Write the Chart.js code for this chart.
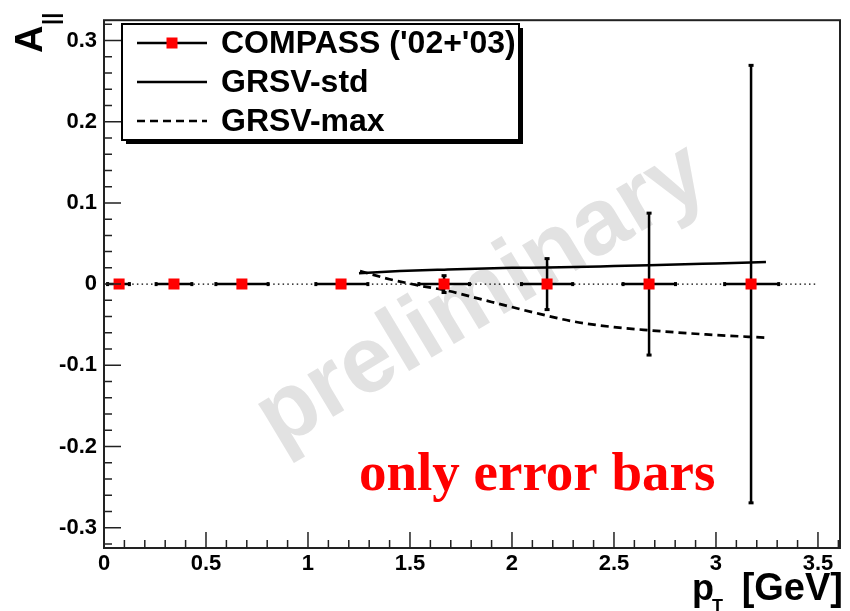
<!DOCTYPE html>
<html>
<head>
<meta charset="utf-8">
<script src="https://cdn.jsdelivr.net/npm/chart.js@4.4.0/dist/chart.umd.min.js"></script>
<style>
body { margin: 0; background: #fff; }
</style>
</head>
<body>
<canvas id="myChart" width="850" height="611"></canvas>
<script>
// COMPASS points (pT bin centres, asymmetry set to 0, only the errors shown)
const ptCenter = [0.074, 0.343, 0.676, 1.162, 1.667, 2.172, 2.672, 3.172];
const ptLow = [0.015, 0.253, 0.546, 1.036, 1.541, 2.044, 2.542, 3.040];
const ptHigh = [0.127, 0.433, 0.807, 1.296, 1.794, 2.300, 2.804, 3.310];
const asym = [0, 0, 0, 0, 0, 0, 0, 0];
const asymErr = [0.002, 0.002, 0.002, 0.003, 0.011, 0.032, 0.088, 0.270];

// GRSV curves
const stdX = [1.25, 1.45, 1.667, 2.0, 2.172, 2.5, 2.672, 3.0, 3.245];
const stdY = [0.0134, 0.016, 0.0178, 0.020, 0.0205, 0.0222, 0.0232, 0.0255, 0.0273];
const maxX = [1.255, 1.40, 1.55, 1.68, 1.90, 2.14, 2.30, 2.50, 2.68, 2.95, 3.245];
const maxY = [0.016, 0.006, -0.002, -0.008, -0.022, -0.037, -0.046, -0.053, -0.057, -0.062, -0.066];

// axes
const xTicks = [0, 0.5, 1, 1.5, 2, 2.5, 3, 3.5];
const xTickLabels = ['0', '0.5', '1', '1.5', '2', '2.5', '3', '3.5'];
const yTicks = [-0.3, -0.2, -0.1, 0, 0.1, 0.2, 0.3];
const yTickLabels = ['-0.3', '-0.2', '-0.1', '0', '0.1', '0.2', '0.3'];
const zeroLineX = [0, 3.5];

const FONT = 'Liberation Sans, Arial, sans-serif';

const toPts = (xs, ys) => xs.map((x, i) => ({ x: x, y: ys[i] }));

const errorBars = {
	id: 'errorBars',
	beforeDatasetsDraw(chart) {
		const ctx = chart.ctx;
		const xs = chart.scales.x;
		const ys = chart.scales.y;
		ctx.save();
		ctx.strokeStyle = '#000';
		ctx.lineWidth = 2.5;
		for (let i = 0; i < ptCenter.length; i++) {
			let px = xs.getPixelForValue(ptCenter[i]);
			let py = ys.getPixelForValue(asym[i]);
			let x1 = xs.getPixelForValue(ptLow[i]);
			let x2 = xs.getPixelForValue(ptHigh[i]);
			let y1 = ys.getPixelForValue(asym[i] + asymErr[i]);
			let y2 = ys.getPixelForValue(asym[i] - asymErr[i]);
			ctx.beginPath();
			ctx.moveTo(x1, py); ctx.lineTo(x2, py);
			ctx.moveTo(px, y1); ctx.lineTo(px, y2);
			ctx.stroke();
			// small end marks
			ctx.fillStyle = '#000';
			ctx.fillRect(x1 - 1, py - 2, 3, 4);
			ctx.fillRect(x2 - 2, py - 2, 3, 4);
			if (py - y1 > 8) {
				ctx.fillRect(px - 2.5, y1 - 1, 5, 3);
				ctx.fillRect(px - 2.5, y2 - 2, 5, 3);
			}
		}
		ctx.restore();
	}
};

const watermark = {
	id: 'watermark',
	beforeDatasetsDraw(chart) {
		const ctx = chart.ctx;
		ctx.save();
		ctx.translate(482, 297);
		ctx.rotate(-31 * Math.PI / 180);
		ctx.font = 'bold 94px ' + FONT;
		ctx.fillStyle = '#e2e2e2';
		ctx.textAlign = 'center';
		ctx.textBaseline = 'middle';
		ctx.fillText('preliminary', 0, 0);
		ctx.restore();
	}
};

const frame = {
	id: 'frame',
	afterDatasetsDraw(chart) {
		const ctx = chart.ctx;
		const a = chart.chartArea;
		const xs = chart.scales.x;
		const ys = chart.scales.y;
		ctx.save();
		ctx.strokeStyle = '#222';
		ctx.lineWidth = 2;
		ctx.strokeRect(a.left, a.top, a.right - a.left, a.bottom - a.top);
		ctx.lineWidth = 1.5;
		ctx.beginPath();
		for (let k = 0; k <= 36; k++) {
			let px = xs.getPixelForValue(k * 0.1);
			if (px > a.right) break;
			let len = (k % 5 === 0) ? 16 : 8;
			ctx.moveTo(px, a.bottom); ctx.lineTo(px, a.bottom - len);
		}
		for (let k = -16; k <= 16; k++) {
			let py = ys.getPixelForValue(k * 0.02);
			if (py < a.top || py > a.bottom) continue;
			let len = (k % 5 === 0) ? 17 : 8;
			ctx.moveTo(a.left, py); ctx.lineTo(a.left + len, py);
		}
		ctx.stroke();
		ctx.restore();
	}
};

const annotations = {
	id: 'annotations',
	afterDraw(chart) {
		const ctx = chart.ctx;
		ctx.save();

		// legend box with shadow
		const lx = 122, ly = 24, lw = 397, lh = 116;
		ctx.fillStyle = '#000';
		ctx.fillRect(lx + 4, ly + 4, lw, lh);
		ctx.fillStyle = '#fff';
		ctx.fillRect(lx, ly, lw, lh);
		ctx.strokeStyle = '#000';
		ctx.lineWidth = 2;
		ctx.strokeRect(lx, ly, lw, lh);

		const rows = [43, 82, 121];
		const sets = chart.data.datasets;
		ctx.font = 'bold 32px ' + FONT;
		ctx.textBaseline = 'middle';
		for (let i = 0; i < 3; i++) {
			const ds = sets[i];
			ctx.strokeStyle = '#000';
			ctx.lineWidth = 2.5;
			ctx.setLineDash(ds.borderDash || []);
			ctx.beginPath();
			ctx.moveTo(137, rows[i]); ctx.lineTo(207, rows[i]);
			ctx.stroke();
			ctx.setLineDash([]);
			if (i === 0) {
				ctx.fillStyle = 'red';
				ctx.fillRect(166.5, rows[i] - 5.5, 11, 11);
			}
			ctx.fillStyle = '#000';
			ctx.fillText(ds.label, 221, rows[i] + 1);
		}

		// red note
		ctx.font = 'bold 55px Liberation Serif, Times New Roman, serif';
		ctx.fillStyle = '#ff0000';
		ctx.textBaseline = 'alphabetic';
		ctx.fillText('only error bars', 359, 490);

		// x title
		ctx.fillStyle = '#000';
		ctx.font = 'bold 36px ' + FONT;
		ctx.textAlign = 'left';
		ctx.fillText('p', 692, 600);
		ctx.font = 'bold 18px ' + FONT;
		ctx.fillText('T', 712, 612);
		ctx.font = 'bold 38px ' + FONT;
		ctx.textAlign = 'right';
		ctx.fillText('[GeV]', 843, 600);

		// y title
		ctx.translate(42, 53);
		ctx.rotate(-Math.PI / 2);
		ctx.textAlign = 'left';
		ctx.font = 'bold 38px ' + FONT;
		ctx.fillText('A', 0, 0);
		ctx.font = 'bold 22px ' + FONT;
		ctx.fillText('||', 28, 15.5);
		ctx.restore();
	}
};

const ctx = document.getElementById('myChart').getContext('2d');
const myChart = new Chart(ctx, {
	type: 'scatter',
	data: {
		datasets: [{
			label: "COMPASS ('02+'03)",
			data: toPts(ptCenter, asym),
			pointStyle: 'rect',
			pointRadius: 7.8,
			pointBackgroundColor: '#ff0000',
			pointBorderWidth: 0,
			showLine: false
		}, {
			label: 'GRSV-std',
			data: toPts(stdX, stdY),
			showLine: true,
			borderColor: '#000',
			borderWidth: 2.5,
			pointRadius: 0,
			cubicInterpolationMode: 'monotone'
		}, {
			label: 'GRSV-max',
			data: toPts(maxX, maxY),
			showLine: true,
			borderColor: '#000',
			borderWidth: 2.7,
			borderDash: [8, 5],
			pointRadius: 0,
			cubicInterpolationMode: 'monotone'
		}, {
			label: '',
			data: toPts(zeroLineX, [0, 0]),
			showLine: true,
			borderColor: '#000',
			borderWidth: 1.2,
			borderDash: [1.5, 3.2],
			pointRadius: 0,
			order: 5
		}]
	},
	options: {
		responsive: false,
		devicePixelRatio: 1,
		animation: false,
		layout: { padding: { top: 15, right: 10, left: 0, bottom: 0 } },
		plugins: { legend: { display: false }, tooltip: { enabled: false } },
		scales: {
			x: {
				type: 'linear',
				min: 0,
				max: 3.608,
				afterBuildTicks: s => { s.ticks = xTicks.map(v => ({ value: v })); },
				afterFit: s => { s.height = 63; },
				grid: { display: false, drawTicks: false },
				border: { display: false },
				ticks: {
					autoSkip: false,
					maxRotation: 0,
					padding: 3,
					color: '#000',
					font: { family: FONT, size: 22, weight: 'bold' },
					callback: v => xTickLabels[xTicks.indexOf(v)]
				}
			},
			y: {
				min: -0.325,
				max: 0.325,
				afterBuildTicks: s => { s.ticks = yTicks.map(v => ({ value: v })); },
				afterFit: s => { s.width = 104; },
				grid: { display: false, drawTicks: false },
				border: { display: false },
				ticks: {
					autoSkip: false,
					padding: 7,
					color: '#000',
					font: { family: FONT, size: 22, weight: 'bold' },
					callback: v => yTickLabels[yTicks.indexOf(v)]
				}
			}
		}
	},
	plugins: [watermark, errorBars, frame, annotations]
});
</script>
</body>
</html>
